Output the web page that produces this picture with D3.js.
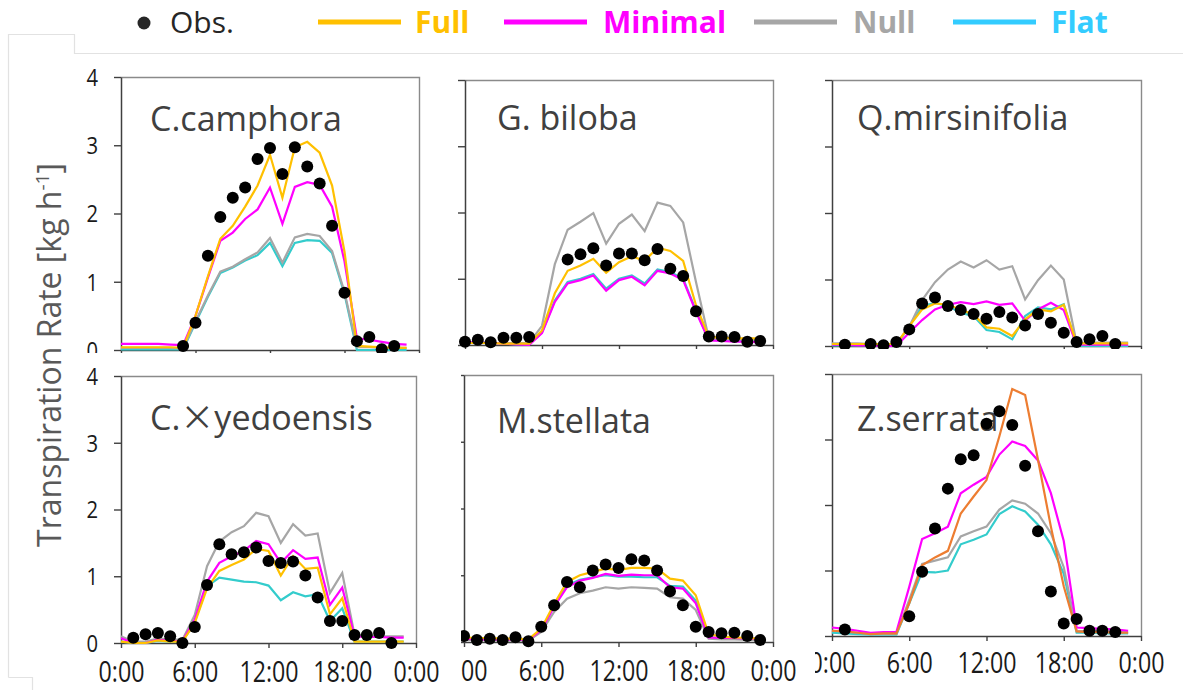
<!DOCTYPE html>
<html>
<head>
<meta charset="utf-8">
<script src="https://cdn.jsdelivr.net/npm/d3@7"></script>
<style>
  body { margin: 0; background: #fff; }
  svg { display: block; }
</style>
</head>
<body>
<svg id="chart" width="1183" height="690"></svg>
<script>
// Hourly transpiration rate (kg h-1) of six street-tree species:
// observed values and four model variants.
const hours = d3.range(24);
const xTickHours = [0, 6, 12, 18, 24];
const xTickLabels = ["0:00", "6:00", "12:00", "18:00", "0:00"];
const yTicks = [0, 1, 2, 3, 4];
const seriesNames = ["Full", "Minimal", "Null", "Flat"];
const speciesNames = ["C.camphora", "G. biloba", "Q.mirsinifolia", "C.×yedoensis", "M.stellata", "Z.serrata"];

// C.camphora
const obsCamphora = [null,null,null,null,null,0.06,0.40,1.38,1.95,2.23,2.38,2.80,2.96,2.58,2.97,2.69,2.44,1.82,0.84,0.13,0.19,0.01,0.06,null];
const fullCamphora = [0.04,0.04,0.04,0.04,0.04,0.03,0.50,1.08,1.63,1.82,2.10,2.41,2.86,2.23,2.97,3.05,2.89,2.41,1.44,0.06,0.05,0.04,0.03,0.03];
const minimalCamphora = [0.09,0.09,0.09,0.09,0.08,0.07,0.50,1.06,1.60,1.72,1.92,2.06,2.38,1.85,2.39,2.46,2.42,2.10,1.30,0.17,0.15,0.12,0.09,0.08];
const nullCamphora = [0.03,0.03,0.03,0.03,0.03,0.02,0.42,0.80,1.15,1.22,1.33,1.43,1.64,1.28,1.65,1.70,1.67,1.45,0.85,0.04,0.04,0.03,0.03,0.03];
const flatCamphora = [0.01,0.01,0.01,0.01,0.01,0.01,0.40,0.78,1.13,1.21,1.31,1.39,1.57,1.23,1.57,1.61,1.60,1.42,0.82,0.00,0.00,0.00,0.00,0.00];

// G. biloba
const obsBiloba = [0.05,0.08,0.04,0.11,0.11,0.12,null,null,1.29,1.37,1.46,1.20,1.38,1.38,1.28,1.45,1.15,1.04,0.51,0.13,0.13,0.12,0.05,0.06];
const fullBiloba = [0.03,0.03,0.03,0.02,0.02,0.02,0.22,0.78,1.12,1.20,1.30,1.09,1.25,1.34,1.27,1.47,1.42,1.27,0.60,0.12,0.11,0.10,0.10,0.10];
const minimalBiloba = [0.04,0.04,0.03,0.02,0.01,0.00,0.18,0.65,0.93,0.98,1.05,0.82,0.98,1.03,0.90,1.12,1.08,0.98,0.50,0.07,0.06,0.05,0.05,0.04];
const nullBiloba = [0.03,0.03,0.03,0.03,0.03,0.03,0.29,1.22,1.74,1.86,1.99,1.53,1.83,1.97,1.72,2.15,2.10,1.85,0.95,0.10,0.09,0.09,0.08,0.08];
const flatBiloba = [0.04,0.04,0.03,0.02,0.01,0.01,0.19,0.67,0.95,1.00,1.07,0.85,1.00,1.05,0.93,1.14,1.10,1.00,0.52,0.08,0.07,0.06,0.06,0.05];

// Q.mirsinifolia
const obsMirsinifolia = [null,0.02,null,0.03,0.01,0.06,0.25,0.64,0.73,0.60,0.54,0.48,0.41,0.51,0.43,0.31,0.48,0.35,0.20,0.06,0.10,0.15,0.03,null];
const fullMirsinifolia = [0.03,0.03,0.03,0.03,0.03,0.03,0.30,0.55,0.64,0.62,0.55,0.47,0.28,0.26,0.15,0.40,0.55,0.52,0.62,0.04,0.04,0.04,0.04,0.04];
const minimalMirsinifolia = [0.02,0.02,0.01,0.01,0.00,0.00,0.20,0.39,0.55,0.62,0.66,0.63,0.67,0.62,0.64,0.38,0.55,0.65,0.54,0.02,0.02,0.02,0.02,0.02];
const nullMirsinifolia = [0.04,0.04,0.04,0.03,0.03,0.03,0.29,0.69,0.96,1.15,1.27,1.18,1.29,1.15,1.20,0.70,0.99,1.21,1.00,0.04,0.05,0.05,0.05,0.05];
const flatMirsinifolia = [0.01,0.01,0.01,0.01,0.01,0.01,0.30,0.60,0.65,0.60,0.50,0.45,0.24,0.21,0.10,0.45,0.58,0.55,0.63,0.00,0.00,0.00,0.00,0.00];

// C.×yedoensis
const obsYedoensis = [null,0.08,0.13,0.15,0.10,0.00,0.24,0.87,1.48,1.33,1.36,1.43,1.23,1.20,1.22,1.01,0.68,0.33,0.33,0.12,0.12,0.15,0.00,null];
const fullYedoensis = [0.02,0.00,0.00,0.04,0.02,0.02,0.30,0.82,1.08,1.17,1.25,1.41,1.38,1.01,1.30,1.11,1.13,0.43,0.67,0.02,0.02,0.02,0.02,0.02];
const minimalYedoensis = [0.07,0.00,0.00,0.05,0.03,0.03,0.35,0.92,1.20,1.30,1.38,1.53,1.48,1.20,1.39,1.26,1.28,0.57,0.83,0.10,0.09,0.09,0.08,0.08];
const nullYedoensis = [0.10,0.02,0.02,0.07,0.05,0.05,0.42,1.15,1.52,1.66,1.75,1.95,1.90,1.50,1.78,1.61,1.64,0.75,1.05,0.12,0.11,0.10,0.10,0.10];
const flatYedoensis = [0.02,0.00,0.00,0.03,0.02,0.02,0.32,0.85,0.98,0.95,0.92,0.91,0.86,0.64,0.76,0.70,0.73,0.33,0.52,0.02,0.02,0.02,0.02,0.02];

// M.stellata
const obsStellata = [0.09,0.03,0.05,0.03,0.07,0.01,0.23,0.55,0.90,0.82,1.07,1.16,1.11,1.24,1.22,1.07,0.76,0.55,0.23,0.15,0.13,0.14,0.09,0.03];
const fullStellata = [0.07,0.06,0.06,0.05,0.05,0.04,0.20,0.57,0.90,1.00,1.05,1.10,1.08,1.11,1.11,1.10,0.95,0.92,0.70,0.12,0.08,0.07,0.06,0.05];
const minimalStellata = [0.05,0.04,0.04,0.04,0.04,0.03,0.18,0.53,0.82,0.92,0.96,1.02,0.99,1.01,1.00,1.00,0.82,0.80,0.58,0.07,0.06,0.06,0.05,0.05];
const nullStellata = [0.03,0.03,0.03,0.02,0.02,0.02,0.15,0.45,0.65,0.73,0.77,0.82,0.80,0.82,0.81,0.80,0.67,0.65,0.48,0.05,0.04,0.04,0.03,0.03];
const flatStellata = [0.05,0.04,0.04,0.04,0.04,0.03,0.18,0.54,0.85,0.93,0.97,1.00,0.98,0.98,0.97,0.97,0.84,0.83,0.62,0.07,0.06,0.06,0.05,0.05];

// Z.serrata
const obsSerrata = [null,0.10,null,null,null,null,0.30,0.98,1.64,2.25,2.70,2.76,3.24,3.43,3.22,2.60,1.60,0.68,0.19,0.26,0.08,0.08,0.06,null];
const fullSerrata = [0.08,0.07,0.05,0.03,0.04,0.04,0.50,1.08,1.20,1.30,1.87,2.13,2.38,3.05,3.77,3.68,2.69,1.67,0.76,0.07,0.06,0.06,0.05,0.05];
const minimalSerrata = [0.13,0.11,0.08,0.05,0.06,0.06,0.75,1.48,1.57,1.67,2.18,2.31,2.43,2.77,2.97,2.90,2.68,2.18,1.45,0.13,0.12,0.11,0.10,0.08];
const nullSerrata = [0.08,0.07,0.05,0.03,0.03,0.03,0.55,1.10,1.15,1.20,1.52,1.60,1.67,1.93,2.07,2.02,1.87,1.57,1.05,0.08,0.07,0.07,0.06,0.06];
const flatSerrata = [0.05,0.04,0.03,0.02,0.02,0.02,0.50,0.98,0.97,1.00,1.40,1.47,1.55,1.86,1.98,1.90,1.70,1.40,0.95,0.05,0.05,0.04,0.04,0.04];

const obsAll = [obsCamphora, obsBiloba, obsMirsinifolia, obsYedoensis, obsStellata, obsSerrata];
const fullAll = [fullCamphora, fullBiloba, fullMirsinifolia, fullYedoensis, fullStellata, fullSerrata];
const minimalAll = [minimalCamphora, minimalBiloba, minimalMirsinifolia, minimalYedoensis, minimalStellata, minimalSerrata];
const nullAll = [nullCamphora, nullBiloba, nullMirsinifolia, nullYedoensis, nullStellata, nullSerrata];
const flatAll = [flatCamphora, flatBiloba, flatMirsinifolia, flatYedoensis, flatStellata, flatSerrata];

// Colours
const colFull = "#FFC000";
const colFullAlt = "#ED7D31";
const colMinimal = "#FF00FF";
const colNull = "#A6A6A6";
const colFlatLine = "#33CCCC";
const colFlatLegend = "#33CCFF";

const FONT = "'Open Sans', 'Noto Sans', sans-serif";

// Panel layout: plot box [left, top, right, bottom], visible region, title anchor
const panels = [
  { box: [121, 77, 419, 350], clip: [76, 60, 440, 353], yLab: true,  xLab: false, title: [150, 131], full: colFull },
  { box: [465, 80, 773, 345], clip: [440, 60, 790, 349], yLab: false, xLab: false, title: [497, 130], full: colFull },
  { box: [832, 80, 1141, 346], clip: [790, 60, 1183, 349], yLab: false, xLab: false, title: [857, 130], full: colFull },
  { box: [121, 376, 416, 643], clip: [76, 360, 448, 690], yLab: true,  xLab: true,  title: [150, 430], full: colFull },
  { box: [464, 375, 773, 642], clip: [461, 360, 799, 690], yLab: false, xLab: true,  title: [497, 433], full: colFull },
  { box: [832, 374, 1141, 636], clip: [815, 360, 1183, 690], yLab: false, xLab: true,  title: [857, 431], full: colFullAlt }
];

const svg = d3.select("#chart");
svg.append("rect").attr("width", 1183).attr("height", 690).attr("fill", "#fff");

// Faint outline of the surrounding frame
svg.append("path")
  .attr("d", "M8.5,677.5 V34.5 H74.5 V53.5 H1183 M8.5,677.5 H32.5 V690")
  .attr("fill", "none").attr("stroke", "#e2e2e2").attr("stroke-width", 1.2);

const defs = svg.append("defs");

panels.forEach((p, k) => {
  const [L, T, R, B] = p.box;
  const [cx0, cy0, cx1, cy1] = p.clip;
  defs.append("clipPath").attr("id", "clip" + k)
    .append("rect").attr("x", cx0).attr("y", cy0).attr("width", cx1 - cx0).attr("height", cy1 - cy0);

  const g = svg.append("g").attr("clip-path", `url(#clip${k})`);
  const x = d3.scaleLinear().domain([0, 24]).range([L, R]);
  const y = d3.scaleLinear().domain([0, 4]).range([B, T]);

  // top and right border
  g.append("path")
    .attr("d", `M${L},${T + 0.5} H${R + 0.5} V${B}`)
    .attr("fill", "none").attr("stroke", "#8a8a8a").attr("stroke-width", 1.4);

  // y axis
  const ya = g.append("g").attr("transform", `translate(${L},0)`)
    .call(d3.axisLeft(y).tickValues(yTicks).tickSize(7).tickSizeOuter(0)
      .tickFormat(d => p.yLab ? String(d) : ""));
  ya.select(".domain").attr("stroke", "#404040").attr("stroke-width", 1.5);
  ya.selectAll(".tick line").attr("stroke", "#404040").attr("stroke-width", 1.4);
  ya.selectAll(".tick text")
    .attr("x", -26).attr("dy", "0.36em")
    .attr("transform", "scale(0.88,1)")
    .style("font-family", FONT).style("font-size", "23px").attr("fill", "#1a1a1a");

  // x axis
  const xa = g.append("g").attr("transform", `translate(0,${B})`)
    .call(d3.axisBottom(x).tickValues(xTickHours).tickSize(5).tickSizeOuter(0)
      .tickFormat((d, i) => p.xLab ? xTickLabels[i] : ""));
  xa.select(".domain").attr("stroke", "#404040").attr("stroke-width", 1.5);
  xa.selectAll(".tick line").attr("stroke", "#404040").attr("stroke-width", 1.4);
  xa.selectAll(".tick text")
    .attr("y", k === 5 ? 37 : 39).attr("dy", 0)
    .attr("transform", "scale(0.8,1)")
    .style("font-family", FONT).style("font-size", "29px").attr("fill", "#1a1a1a");

  // species title
  const t = g.append("text")
    .attr("x", p.title[0]).attr("y", p.title[1])
    .style("font-family", FONT).style("font-size", "34px").attr("fill", "#404040");
  if (k === 3) {
    t.append("tspan").text("C.");
    t.append("tspan").style("font-family", "'Noto Sans CJK JP', sans-serif").text("×");
    t.append("tspan").text("yedoensis");
  } else {
    t.text(speciesNames[k]);
  }

  // model lines
  const line = d3.line().x((d, i) => x(hours[i])).y(d => y(d));
  const series = [
    { v: flatAll[k], c: colFlatLine },
    { v: nullAll[k], c: colNull },
    { v: minimalAll[k], c: colMinimal },
    { v: fullAll[k], c: p.full }
  ];
  series.forEach(s => {
    g.append("path").datum(s.v).attr("d", line)
      .attr("fill", "none").attr("stroke", s.c).attr("stroke-width", 2.2);
  });

  // observations
  const obs = hours.map(h => ({ h, v: obsAll[k][h] })).filter(d => d.v !== null);
  g.selectAll("circle.obs").data(obs).join("circle")
    .attr("class", "obs")
    .attr("cx", d => x(d.h)).attr("cy", d => y(d.v)).attr("r", 6)
    .attr("fill", "#000");
});

// y-axis title
const yt = svg.append("text")
  .attr("transform", "translate(61,355) rotate(-90)")
  .attr("text-anchor", "middle")
  .style("font-family", FONT).style("font-size", "32px").attr("fill", "#595959");
yt.append("tspan").text("Transpiration Rate [kg h");
yt.append("tspan").attr("dy", -12).style("font-size", "19px").text("-1");
yt.append("tspan").attr("dy", 12).text("]");

// legend
const legend = svg.append("g");
legend.append("circle").attr("cx", 144).attr("cy", 23).attr("r", 6.5).attr("fill", "#262626");
legend.append("text").attr("x", 170).attr("y", 33)
  .style("font-family", FONT).style("font-size", "30px").attr("fill", "#262626").text("Obs.");
const legendItems = [
  { name: seriesNames[0], c: colFull, x0: 318, tx: 415 },
  { name: seriesNames[1], c: colMinimal, x0: 504, tx: 603 },
  { name: seriesNames[2], c: colNull, x0: 754, tx: 853 },
  { name: seriesNames[3], c: colFlatLegend, x0: 953, tx: 1051 }
];
legendItems.forEach(d => {
  legend.append("line").attr("x1", d.x0).attr("x2", d.x0 + 83).attr("y1", 22).attr("y2", 22)
    .attr("stroke", d.c).attr("stroke-width", 5);
  legend.append("text").attr("x", d.tx).attr("y", 33)
    .style("font-family", FONT).style("font-size", "30px").style("font-weight", "bold")
    .attr("fill", d.c).text(d.name);
});
</script>
</body>
</html>
